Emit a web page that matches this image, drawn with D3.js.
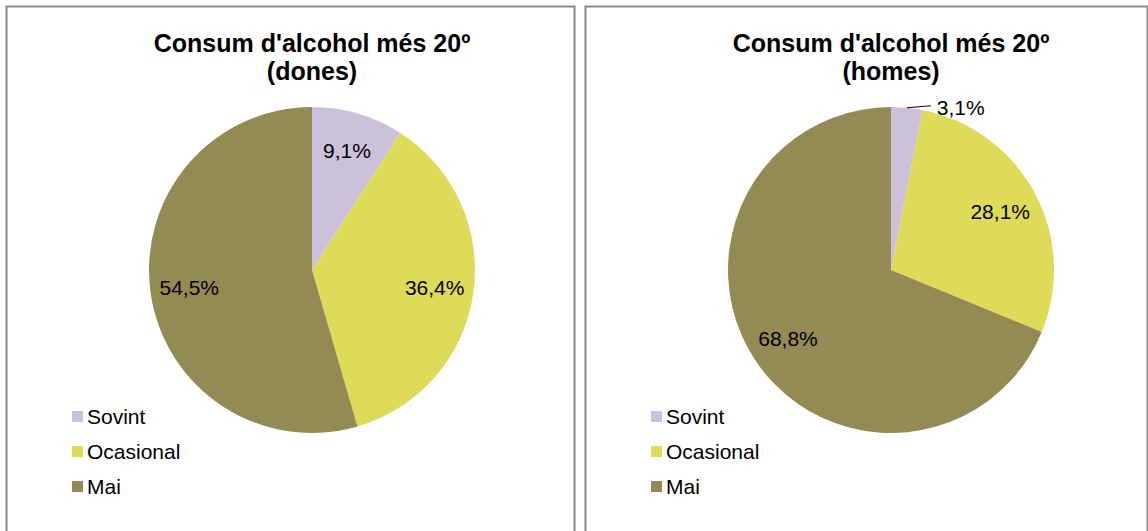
<!DOCTYPE html>
<html>
<head>
<meta charset="utf-8">
<script src="https://cdn.jsdelivr.net/npm/d3@7"></script>
<style>
  body { margin: 0; background: #fff; }
  svg { display: block; font-family: Arial, "Liberation Sans", sans-serif; }
</style>
</head>
<body>
<div id="chart"></div>
<script>
// data
const categories = ['Sovint', 'Ocasional', 'Mai'];
const colors = ['#CCC1DA', '#DDDB58', '#948A54'];
const dones = [9.1, 36.4, 54.5];
const homes = [3.1, 28.1, 68.8];
const titles = ["Consum d'alcohol més 20º", '(dones)', '(homes)'];

const W = 1148;
const H = 531;

const svg = d3.select('#chart').append('svg')
  .attr('width', W)
  .attr('height', H);

const panels = [
  {x: 6, w: 568, sub: titles[1], values: dones},
  {x: 585, w: 562, sub: titles[2], values: homes}
];

const r = 163;
const pie = d3.pie().sort(null).value(d => d);
const arc = d3.arc().innerRadius(0).outerRadius(r);
const labelArc = d3.arc().innerRadius(124).outerRadius(124);
const fmt = v => d3.format('.1f')(v).replace('.', ',') + '%';

panels.forEach(p => {
  const g = svg.append('g').attr('transform', `translate(${p.x}, 6)`);

  // frame
  g.append('rect')
    .attr('x', 0.5).attr('y', 0.5)
    .attr('width', p.w).attr('height', H)
    .style('fill', '#fff')
    .style('stroke', '#8c8c8c')
    .style('stroke-width', '2px');

  const cx = 306;
  const cy = 264;

  // title
  const t = g.append('text')
    .attr('text-anchor', 'middle')
    .style('font-size', '25px')
    .style('font-weight', 'bold')
    .style('fill', '#000');
  t.append('tspan').attr('x', cx).attr('y', 46).text(titles[0]);
  t.append('tspan').attr('x', cx).attr('y', 74).text(p.sub);

  // slices
  const pg = g.append('g').attr('transform', `translate(${cx}, ${cy})`);
  const arcs = pie(p.values);
  pg.selectAll('path')
    .data(arcs)
    .enter().append('path')
    .attr('d', arc)
    .style('fill', (d, i) => colors[i]);

  // labels
  arcs.forEach(d => {
    if (d.data < 5) {
      const a = (d.startAngle + d.endAngle) / 2;
      const x0 = Math.sin(a) * r;
      const y0 = -Math.cos(a) * r;
      pg.append('path')
        .attr('d', `M${x0},${y0}L${x0 + 24},${y0 - 2}`)
        .style('stroke', '#000')
        .style('stroke-width', '1px')
        .style('fill', 'none');
      pg.append('text')
        .attr('x', x0 + 30)
        .attr('y', y0 + 7)
        .style('font-size', '21px')
        .style('fill', '#000')
        .text(fmt(d.data));
    } else {
      const c = labelArc.centroid(d);
      pg.append('text')
        .attr('x', c[0])
        .attr('y', c[1])
        .attr('dy', '0.35em')
        .attr('text-anchor', 'middle')
        .style('font-size', '21px')
        .style('fill', '#000')
        .text(fmt(d.data));
    }
  });

  // legend
  const lg = g.selectAll('.legend')
    .data(categories)
    .enter().append('g')
    .attr('class', 'legend')
    .attr('transform', (d, i) => `translate(66, ${405 + i * 35})`);
  lg.append('rect')
    .attr('width', 11).attr('height', 11)
    .style('fill', (d, i) => colors[i]);
  lg.append('text')
    .attr('x', 15)
    .attr('y', 5.5)
    .attr('dy', '0.35em')
    .style('font-size', '21px')
    .style('fill', '#000')
    .text(d => d);
});
</script>
</body>
</html>
